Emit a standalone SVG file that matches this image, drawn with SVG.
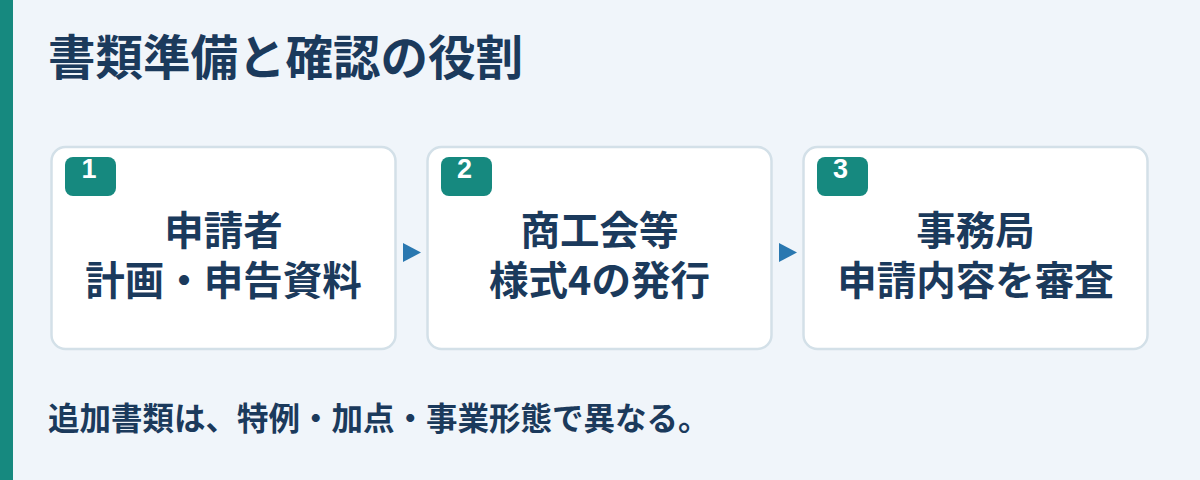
<svg xmlns="http://www.w3.org/2000/svg" width="1200" height="480" viewBox="0 0 1200 480">
  <style>
    .jp { font-family: "Noto Sans CJK JP", "Noto Sans", sans-serif; fill: #1b3a5c; font-weight: 700; }
    .title { font-size: 47.5px; }
    .main { font-size: 39.5px; text-anchor: middle; }
    .foot { font-size: 31.5px; }
    .box { fill: #ffffff; stroke: #d3e0e8; stroke-width: 2.5; }
    .badge { fill: #16897f; }
    .num { font-family: "Liberation Sans", Arial, sans-serif; font-size: 27px; font-weight: 700; fill: #ffffff; text-anchor: middle; }
    .arrow { fill: #2a78b0; }
  </style>
  <rect x="0" y="0" width="1200" height="480" fill="#f0f5fa"/>
  <rect x="0" y="0" width="13" height="480" fill="#16897f"/>
  <text class="jp title" x="48" y="75">書類準備と確認の役割</text>

  <g id="connectors">
    <polygon class="arrow" points="403,243 421,252.5 403,262"/>
    <polygon class="arrow" points="779,243 797,252.5 779,262"/>
  </g>

  <g id="node1">
    <rect class="box" x="51.5" y="147" width="344" height="202" rx="14"/>
    <rect class="badge" x="65" y="157" width="51" height="39" rx="8"/>
    <text class="num" x="89" y="178">1</text>
    <text class="jp main"><tspan x="223.5" y="245">申請者</tspan><tspan x="223.5" y="295">計画・申告資料</tspan></text>
  </g>
  <g id="node2">
    <rect class="box" x="427.5" y="147" width="344" height="202" rx="14"/>
    <rect class="badge" x="441" y="157" width="51" height="39" rx="8"/>
    <text class="num" x="464.5" y="178">2</text>
    <text class="jp main"><tspan x="599.5" y="245">商工会等</tspan><tspan x="599.5" y="295">様式4の発行</tspan></text>
  </g>
  <g id="node3">
    <rect class="box" x="803.5" y="147" width="344" height="202" rx="14"/>
    <rect class="badge" x="817" y="157" width="51" height="39" rx="8"/>
    <text class="num" x="840.5" y="178">3</text>
    <text class="jp main"><tspan x="975.5" y="245">事務局</tspan><tspan x="975.5" y="295">申請内容を審査</tspan></text>
  </g>

  <text class="jp foot" x="48" y="430">追加書類は、特例・加点・事業形態で異なる。</text>
</svg>
